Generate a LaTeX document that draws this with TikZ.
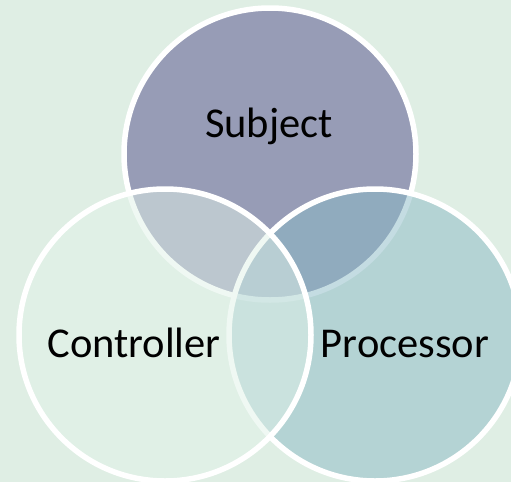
\documentclass[tikz,border=0pt]{standalone}
\usepackage{fontspec}
\setmainfont{Carlito}
\usetikzlibrary{positioning}
\definecolor{bgcol}{RGB}{223,238,228}
\definecolor{subjcol}{RGB}{151,156,182}
\definecolor{proccol}{RGB}{139,186,198}
\definecolor{ctrlcol}{RGB}{225,242,232}
\begin{document}
\begin{tikzpicture}[x=1pt, y=-1pt,
  set/.style={circle, draw=white, line width=5.5pt, minimum size=292pt, inner sep=0pt},
  lbl/.style={anchor=base, inner sep=0pt, font=\fontsize{42.5}{50}\selectfont}]
  \fill[bgcol] (0,0) rectangle (511,482);
  \useasboundingbox (0,0) rectangle (511,482);

  \node[set, fill=subjcol] (subj) at (270,154) {};
  \node[set, fill=proccol, fill opacity=0.5] (proc) at (375,335) {};
  \node[set, fill=ctrlcol, fill opacity=0.5] (ctrl) at (165,335) {};

  \node[lbl] (subjlbl) at (269,137) {Subject};
  \node[lbl] (ctrllbl) at (134,357) {Controller};
  \node[lbl] (proclbl) at (405,357) {Processor};
\end{tikzpicture}
\end{document}
